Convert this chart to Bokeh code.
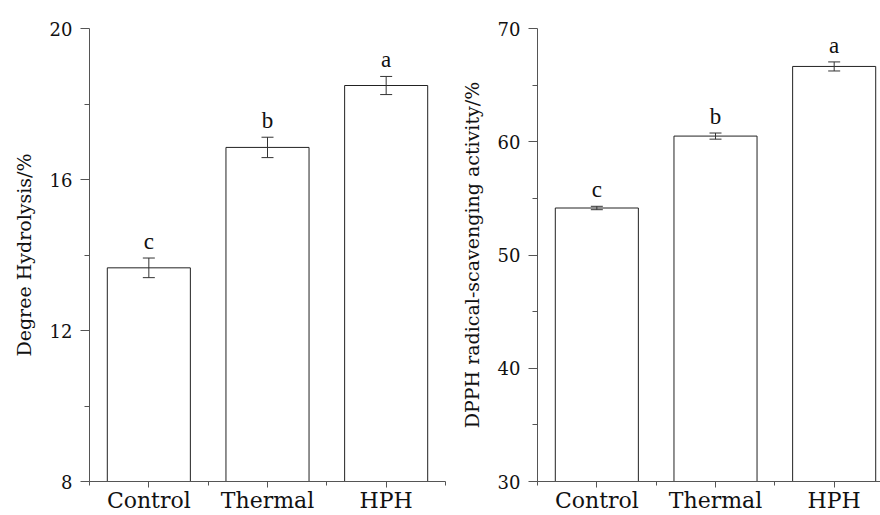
from bokeh.plotting import figure
from bokeh.models import (FixedTicker, Range1d, Whisker, ColumnDataSource,
                          TeeHead, LabelSet)
from bokeh.layouts import row
from bokeh.embed import file_html
from bokeh.resources import INLINE

categories = ["Control", "Thermal", "HPH"]
dh_values = [13.66, 16.85, 18.49]
dh_errors = [0.26, 0.27, 0.24]
dh_letters = ["c", "b", "a"]
dh_ticks = [8, 12, 16, 20]
dh_minor = [10, 14, 18]

dpph_values = [54.15, 60.5, 66.65]
dpph_errors = [0.15, 0.27, 0.4]
dpph_letters = ["c", "b", "a"]
dpph_ticks = [30, 40, 50, 60, 70]
dpph_minor = [35, 45, 55, 65]

FONT = "DejaVu Serif"
AXC = "#555555"
BARC = "#222222"


def panel(values, errors, letters, ticks, minor, ylabel, width, min_left,
          x_end, min_right):
    xs = list(range(1, len(categories) + 1))
    src = ColumnDataSource(dict(
        x=xs, top=values,
        upper=[v + e for v, e in zip(values, errors)],
        lower=[v - e for v, e in zip(values, errors)],
        letter=letters))
    p = figure(width=width, height=515, output_backend="svg",
               toolbar_location=None,
               x_range=Range1d(0.5, x_end),
               y_range=Range1d(ticks[0], ticks[-1]),
               min_border_left=min_left, min_border_right=min_right,
               min_border_top=28, min_border_bottom=33)
    p.outline_line_color = None
    p.grid.visible = False
    p.background_fill_color = "white"
    p.border_fill_color = "white"

    p.vbar(x="x", top="top", bottom=ticks[0], width=0.7, source=src,
           fill_color="white", line_color=BARC, line_width=1)
    w = Whisker(source=src, base="x", upper="upper", lower="lower",
                line_color="#333333", line_width=1, level="overlay",
                upper_head=TeeHead(size=12, line_color="#333333"),
                lower_head=TeeHead(size=12, line_color="#333333"))
    p.add_layout(w)
    lbl = LabelSet(x="x", y="upper", text="letter", source=src,
                   text_align="center", text_baseline="bottom", y_offset=4,
                   text_font=FONT, text_font_size="23px", text_color="#111111")
    p.add_layout(lbl)

    # y axis
    ya = p.yaxis[0]
    ya.ticker = FixedTicker(ticks=ticks, minor_ticks=minor)
    ya.axis_label = ylabel
    ya.axis_label_text_font = FONT
    ya.axis_label_text_font_size = "19px"
    ya.axis_label_text_font_style = "normal"
    ya.axis_label_text_color = "#111111"
    ya.axis_label_standoff = 12
    ya.major_label_text_font = FONT
    ya.major_label_text_font_size = "18px"
    ya.major_label_text_color = "#111111"
    ya.major_label_standoff = 8
    ya.axis_line_color = AXC
    ya.major_tick_line_color = AXC
    ya.minor_tick_line_color = AXC
    ya.major_tick_out = 9
    ya.major_tick_in = 0
    ya.minor_tick_out = 5
    ya.minor_tick_in = 0

    # x axis
    xa = p.xaxis[0]
    xa.ticker = FixedTicker(ticks=xs,
                            minor_ticks=[x - 0.5 for x in xs] + [xs[-1] + 0.5])
    xa.major_label_overrides = {x: c for x, c in zip(xs, categories)}
    xa.major_label_text_font = FONT
    xa.major_label_text_font_size = "22px"
    xa.major_label_text_color = "#111111"
    xa.major_label_standoff = 0
    xa.axis_line_color = AXC
    xa.major_tick_line_color = AXC
    xa.minor_tick_line_color = AXC
    xa.major_tick_out = 6
    xa.major_tick_in = 0
    xa.minor_tick_out = 4
    xa.minor_tick_in = 0
    return p


p1 = panel(dh_values, dh_errors, dh_letters, dh_ticks, dh_minor,
           "Degree Hydrolysis/%", 455, 89, 3.5, 10)
p2 = panel(dpph_values, dpph_errors, dpph_letters, dpph_ticks, dpph_minor,
           "DPPH radical-scavenging activity/%", 425, 82, 0.5 + 343 / 118.67, 0)

layout = row(p1, p2, spacing=0)
open("out.html", "w").write(file_html(layout, INLINE))
